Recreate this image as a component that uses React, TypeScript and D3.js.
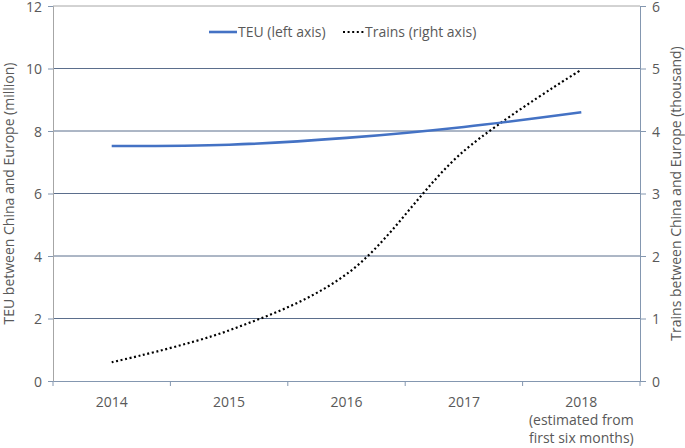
import React, { useRef, useEffect } from 'react'
import { select, scaleBand, scaleLinear, line, curveCatmullRom, axisLeft, axisRight, axisBottom, range } from 'd3'

const years = ['2014', '2015', '2016', '2017', '2018']
const teu = [7.52, 7.56, 7.78, 8.13, 8.6]
const trains = [0.3, 0.81, 1.71, 3.68, 4.98]
const leftTicks = [0, 2, 4, 6, 8, 10, 12]
const rightTicks = [0, 1, 2, 3, 4, 5, 6]

const W = 685
const H = 448
const M = { top: 6, right: 45, bottom: 67, left: 53 }

function App() {
  const svgRef = useRef<SVGSVGElement>(null)

  useEffect(() => {
    const svg = select(svgRef.current)
    svg.selectAll('*').remove()
    const font = "'Open Sans', 'Noto Sans', sans-serif"
    const axisColor = '#8497b0'
    const textColor = '#595959'

    const x = scaleBand().domain(years).range([M.left, W - M.right])
    const yL = scaleLinear().domain([0, 12]).range([H - M.bottom, M.top])
    const yR = scaleLinear().domain([0, 6]).range([H - M.bottom, M.top])

    // grid
    svg.append('g')
      .selectAll('line')
      .data(leftTicks.slice(1))
      .join('line')
      .attr('x1', M.left).attr('x2', W - M.right)
      .attr('y1', d => yL(d)).attr('y2', d => yL(d))
      .attr('stroke', d => d === 12 ? '#a6a6a6' : '#5b6e8c')
      .attr('stroke-width', 1)

    const gl = svg.append('g').attr('transform', `translate(${M.left},0)`)
      .call(axisLeft(yL).tickValues(leftTicks).tickSize(5).tickPadding(6))
    const gr = svg.append('g').attr('transform', `translate(${W - M.right},0)`)
      .call(axisRight(yR).tickValues(rightTicks).tickFormat(d => String(d)).tickSize(6).tickPadding(6))
    const gb = svg.append('g').attr('transform', `translate(0,${H - M.bottom})`)
      .call(axisBottom(x).tickSize(0).tickPadding(16))

    // category boundary ticks
    svg.append('g')
      .selectAll('line')
      .data(range(years.length + 1))
      .join('line')
      .attr('x1', i => M.left + i * x.step()).attr('x2', i => M.left + i * x.step())
      .attr('y1', H - M.bottom).attr('y2', H - M.bottom + 5)
      .attr('stroke', axisColor)

    for (const g of [gl, gr, gb]) {
      g.select('.domain').attr('stroke', axisColor)
      g.selectAll('.tick line').attr('stroke', axisColor)
      g.selectAll('text').attr('fill', textColor).style('font-family', font).style('font-size', '14px')
    }
    gl.select('.domain').attr('stroke', '#a6a6a6')
    gl.selectAll('.tick text').attr('dy', '0.36em')
    gr.selectAll('.tick text').attr('dy', '0.36em')

    const last = gb.selectAll('.tick text').filter(d => d === '2018')
    last.append('tspan').attr('x', 0).attr('dy', '1.3em').text('(estimated from')
    last.append('tspan').attr('x', 0).attr('dy', '1.3em').text('first six months)')

    const cx = (d: string) => (x(d) as number) + x.bandwidth() / 2

    svg.append('path')
      .datum(trains)
      .attr('d', line<number>().x((d, i) => cx(years[i])).y(d => yR(d)).curve(curveCatmullRom))
      .attr('fill', 'none').attr('stroke', '#000').attr('stroke-width', 2.2)
      .attr('stroke-dasharray', '2,2.6')

    svg.append('path')
      .datum(teu)
      .attr('d', line<number>().x((d, i) => cx(years[i])).y(d => yL(d)).curve(curveCatmullRom))
      .attr('fill', 'none').attr('stroke', '#4472c4').attr('stroke-width', 2.6)

    // legend
    const lg = svg.append('g').style('font-family', font).style('font-size', '14px').attr('fill', textColor)
    lg.append('line').attr('x1', 209).attr('x2', 237).attr('y1', 32).attr('y2', 32)
      .attr('stroke', '#4472c4').attr('stroke-width', 2.6)
    lg.append('text').attr('x', 238).attr('y', 37).text('TEU (left axis)')
    lg.append('line').attr('x1', 343).attr('x2', 364).attr('y1', 32).attr('y2', 32)
      .attr('stroke', '#000').attr('stroke-width', 2.2).attr('stroke-dasharray', '2,2.6')
    lg.append('text').attr('x', 365).attr('y', 37).text('Trains (right axis)')

    const midY = (M.top + H - M.bottom) / 2
    svg.append('text')
      .attr('transform', `translate(14,${midY}) rotate(-90)`)
      .attr('text-anchor', 'middle')
      .style('font-family', font).style('font-size', '14px').attr('fill', textColor)
      .text('TEU between China and Europe (million)')
    svg.append('text')
      .attr('transform', `translate(681,${midY}) rotate(-90)`)
      .attr('text-anchor', 'middle')
      .style('font-family', font).style('font-size', '14px').attr('fill', textColor)
      .text('Trains between China and Europe (thousand)')
  }, [])

  return (
    <svg ref={svgRef} width={W} height={H} style={{ position: 'absolute', left: 0, top: 0, background: '#fff' }} />
  )
}

export default App
